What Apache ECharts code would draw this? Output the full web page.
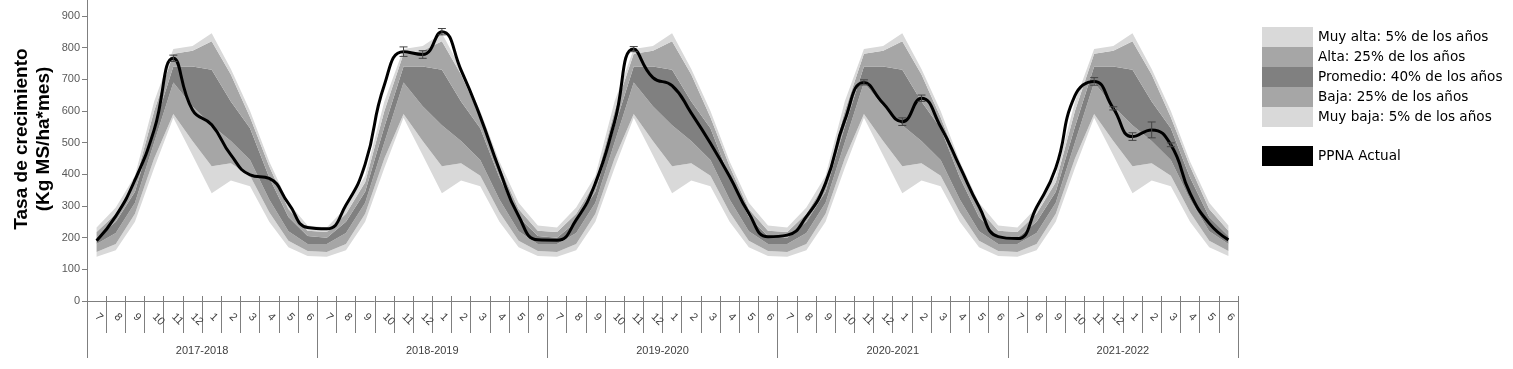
<!DOCTYPE html>
<html>
<head>
<meta charset="utf-8">
<script src="https://cdn.jsdelivr.net/npm/echarts@6/dist/echarts.min.js"></script>
<style>
html,body{margin:0;padding:0;background:#fff;}
#chart{width:1513px;height:369px;}
</style>
</head>
<body>
<div id="chart"></div>
<script>
// ---- data ----
const months = ['7','8','9','10','11','12','1','2','3','4','5','6'];
const seasons = ['2017-2018','2018-2019','2019-2020','2020-2021','2021-2022'];
const yTicks = [0,100,200,300,400,500,600,700,800,900];

// climatological bands (Jul..Jun), same every season
const bandMin = [140,160,250,420,578,460,340,380,362,250,170,142];
const bandP5  = [155,180,275,450,590,505,425,435,395,280,190,158];
const bandP30 = [180,215,310,500,690,615,555,505,445,320,220,180];
const bandP70 = [200,250,345,550,740,740,730,630,545,390,265,205];
const bandP95 = [218,275,375,600,780,790,820,715,580,425,290,222];
const bandMax = [232,295,395,630,795,805,845,732,600,440,310,238];

// PPNA actual per season (Jul..Jun)
const ppna1718 = [190,268,382,540,766,603,556,461,398,387,308,232];
const ppna1819 = [228,303,432,682,787,778,850,729,582,414,268,193];
const ppna1920 = [192,256,372,565,795,705,680,593,498,393,277,203];
const ppna2021 = [208,266,372,570,690,624,566,640,550,424,298,203];
const ppna2122 = [197,296,420,648,693,608,519,540,493,340,245,193];

// error (+/-) per season
const err1718 = [0,0,0,0,10,0,0,0,0,0,0,0];
const err1819 = [0,0,0,0,15,12,10,0,0,0,0,0];
const err1920 = [0,0,0,0,8,0,0,0,0,0,0,0];
const err2021 = [0,0,0,0,8,0,12,10,0,0,0,0];
const err2122 = [0,0,0,0,12,5,12,25,6,0,0,0];

// ---- build ----
const categories = [];
seasons.forEach(() => months.forEach(m => categories.push(m)));
const rep = a => [].concat(a, a, a, a, a);
const b0 = rep(bandMin), b1 = rep(bandP5), b2 = rep(bandP30), b3 = rep(bandP70), b4 = rep(bandP95), b5 = rep(bandMax);
const diff = (hi, lo) => hi.map((v, i) => v - lo[i]);
const ppna = [].concat(ppna1718, ppna1819, ppna1920, ppna2021, ppna2122);
const errs = [].concat(err1718, err1819, err1920, err2021, err2122);

const LIGHT = '#d9d9d9', MID = '#a6a6a6', DARK = '#808080';
const names = ['Muy alta: 5% de los años','Alta: 25% de los años','Promedio: 40% de los años','Baja: 25% de los años','Muy baja: 5% de los años'];

function band(name, data, color) {
  return {
    name: name, type: 'line', stack: 'band', data: data, symbol: 'none',
    lineStyle: {width: 0, opacity: 0}, areaStyle: {color: color, opacity: 1},
    itemStyle: {color: color}, z: 1, silent: true
  };
}

const chart = echarts.init(document.getElementById('chart'), null, {renderer: 'canvas'});
const axisGrey = '#7f7f7f';
chart.setOption({
  animation: false,
  grid: {left: 87, right: 275, top: 0, bottom: 68},
  graphic: [{
    type: 'text', x: 33, y: 139, rotation: Math.PI / 2,
    style: {
      text: 'Tasa de crecimiento\n(Kg MS/ha*mes)', fill: '#000',
      font: 'bold 19px "Liberation Sans", Arial, sans-serif',
      align: 'center', verticalAlign: 'middle', lineHeight: 22
    }
  }],
  legend: [{
    data: names, orient: 'vertical', left: 1262, top: 27, padding: 0,
    itemWidth: 51, itemHeight: 20, itemGap: 0, icon: 'rect', selectedMode: false,
    textStyle: {fontFamily: 'DejaVu Sans', fontSize: 13.6, color: '#000'}
  }, {
    data: ['PPNA Actual'], orient: 'vertical', left: 1262, top: 146, padding: 0,
    itemWidth: 51, itemHeight: 20, icon: 'rect', selectedMode: false,
    textStyle: {fontFamily: 'DejaVu Sans', fontSize: 13.6, color: '#000'}
  }],
  xAxis: [{
    type: 'category', data: categories, position: 'bottom', boundaryGap: true,
    axisLine: {show: true, lineStyle: {color: axisGrey, width: 1}},
    axisTick: {show: true, length: 32, lineStyle: {color: axisGrey}},
    axisLabel: {interval: 0, rotate: -45, margin: 14, fontSize: 11, color: '#404040', fontFamily: 'Liberation Sans'}
  }, {
    type: 'category', data: categories, position: 'bottom', boundaryGap: true,
    axisLine: {show: false},
    axisTick: {show: true, inside: true, length: 5, lineStyle: {color: axisGrey}},
    axisLabel: {show: false}
  }, {
    type: 'category', data: seasons, position: 'bottom', boundaryGap: true,
    axisLine: {show: false},
    axisTick: {show: true, length: 57, lineStyle: {color: axisGrey}},
    axisLabel: {interval: 0, margin: 44, fontSize: 11, color: '#404040', fontFamily: 'Liberation Sans'}
  }],
  yAxis: {
    type: 'value', min: 0, max: 950, interval: 100,
    splitLine: {show: false},
    axisLine: {show: true, lineStyle: {color: axisGrey}},
    axisTick: {show: true, length: 5, customValues: yTicks, lineStyle: {color: axisGrey}},
    axisLabel: {customValues: yTicks, margin: 7, fontSize: 11, color: '#595959', fontFamily: 'Liberation Sans'}
  },
  series: [
    {name: 'base', type: 'line', stack: 'band', data: b0, symbol: 'none', lineStyle: {width: 0, opacity: 0}, silent: true},
    band(names[4], diff(b1, b0), LIGHT),
    band(names[3], diff(b2, b1), MID),
    band(names[2], diff(b3, b2), DARK),
    band(names[1], diff(b4, b3), MID),
    band(names[0], diff(b5, b4), LIGHT),
    {
      name: 'PPNA Actual', type: 'line', data: ppna, smooth: 0.5, symbol: 'none',
      lineStyle: {color: '#000', width: 3}, itemStyle: {color: '#000'}, z: 5
    },
    {
      name: 'err', type: 'custom', z: 6, silent: true,
      data: ppna.map((v, i) => [i, v, errs[i]]),
      renderItem: function (params, api) {
        const e = api.value(2);
        if (!e) return null;
        const i = api.value(0), v = api.value(1);
        const top = api.coord([i, v + e]);
        const bot = api.coord([i, v - e]);
        const w = 4;
        const st = {stroke: '#444', lineWidth: 1};
        return {type: 'group', children: [
          {type: 'line', shape: {x1: top[0], y1: top[1], x2: bot[0], y2: bot[1]}, style: st},
          {type: 'line', shape: {x1: top[0]-w, y1: top[1], x2: top[0]+w, y2: top[1]}, style: st},
          {type: 'line', shape: {x1: bot[0]-w, y1: bot[1], x2: bot[0]+w, y2: bot[1]}, style: st}
        ]};
      }
    }
  ]
});
</script>
</body>
</html>
